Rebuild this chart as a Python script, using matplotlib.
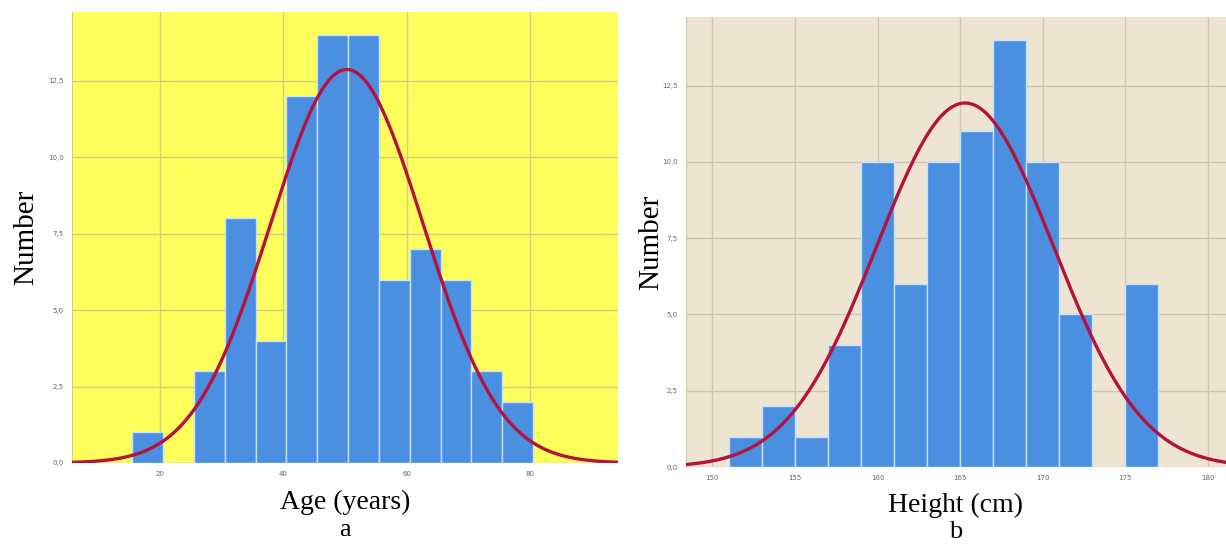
import numpy as np
import matplotlib
matplotlib.use("Agg")
import matplotlib.pyplot as plt

# panel a: age histogram
age_edges = [15.5, 20.5, 25.5, 30.5, 35.5, 40.5, 45.5, 50.5, 55.5, 60.5, 65.5, 70.5, 75.5, 80.5]
age_counts = [1, 0, 3, 8, 4, 12, 14, 14, 6, 7, 6, 3, 2]
age_mean, age_sd = 50.3, 12.4
age_ticks = [20, 40, 60, 80]

# panel b: height histogram
height_edges = [151, 153, 155, 157, 159, 161, 163, 165, 167, 169, 171, 173, 175, 177]
height_counts = [1, 2, 1, 4, 10, 6, 10, 11, 14, 10, 5, 0, 6]
height_mean, height_sd = 165.3, 5.35
height_ticks = [150, 155, 160, 165, 170, 175, 180]

y_ticks = [0, 2.5, 5.0, 7.5, 10.0, 12.5]
y_labels = ["0,0", "2,5", "5,0", "7,5", "10,0", "12,5"]

bar_col = "#4a8fe0"
curve_col = "#b5123d"
serif = ["Liberation Serif", "DejaVu Serif"]


def panel(ax, edges, counts, mean, sd, xlim, xticks, bg, gridc, xlabel, letter,
          xpad, ypad, letter_y):
    edges = np.array(edges, dtype=float)
    counts = np.array(counts)
    ax.set_facecolor(bg)
    ax.bar(edges[:-1], counts, width=np.diff(edges), align="edge",
           color=bar_col, edgecolor="#c4e2ff", linewidth=1.0, zorder=2)
    x = np.linspace(xlim[0], xlim[1], 400)
    bw = edges[1] - edges[0]
    y = counts.sum() * bw / (sd * np.sqrt(2 * np.pi)) * np.exp(-0.5 * ((x - mean) / sd) ** 2)
    ax.plot(x, y, color=curve_col, lw=2.4, zorder=3)
    ax.set_xlim(*xlim)
    ax.set_ylim(0, 14.75)
    ax.set_xticks(xticks)
    ax.set_xticklabels([str(t) for t in xticks])
    ax.set_yticks(y_ticks)
    ax.set_yticklabels(y_labels)
    ax.grid(True, color=gridc, lw=1.0, zorder=0)
    ax.set_axisbelow(True)
    ax.tick_params(length=0, labelsize=5, labelcolor="#666666", pad=6)
    for s in ax.spines.values():
        s.set_visible(False)
    ax.spines["left"].set_visible(True)
    ax.spines["left"].set_color(gridc)
    ax.set_xlabel(xlabel, family=serif, fontsize=20, labelpad=xpad)
    ax.set_ylabel("Number", family=serif, fontsize=21, labelpad=ypad)
    pos = ax.get_position()
    fig.text((pos.x0 + pos.x1) / 2, letter_y, letter, ha="center", va="top",
             family=serif, fontsize=19)


fig = plt.figure(figsize=(12.26, 5.45), dpi=100)
ax1 = fig.add_axes([0.0587, 0.1505, 0.4454, 0.8275])
ax2 = fig.add_axes([0.5595, 0.1431, 0.4405, 0.8257])

panel(ax1, age_edges, age_counts, age_mean, age_sd, (5.7, 94.3), age_ticks,
      "#ffff5c", "#cfcf80", "Age (years)", "a", 9, 6, 1 - 519 / 545)
panel(ax2, height_edges, height_counts, height_mean, height_sd, (148.4, 181.1), height_ticks,
      "#ede5d2", "#cfc6b0", "Height (cm)", "b", 8, -2, 1 - 521 / 545)

fig.savefig("out.png", dpi=100)
